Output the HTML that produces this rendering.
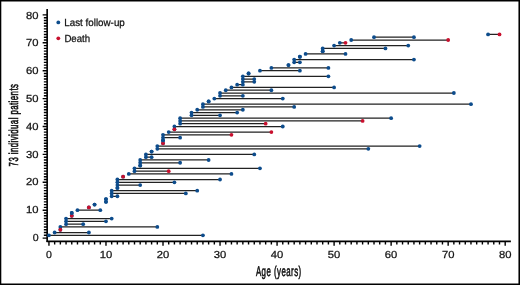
<!DOCTYPE html>
<html><head><meta charset="utf-8"><title>chart</title>
<style>
html,body{margin:0;padding:0;background:#fff;}
body{width:520px;height:285px;position:relative;overflow:hidden;font-family:"Liberation Sans",sans-serif;}
</style></head><body>
<svg width="520" height="285" viewBox="0 0 520 285" style="position:absolute;left:0;top:0;will-change:transform">
<g stroke="#000" stroke-width="1.65" fill="none">
<path d="M47.15 9.07V241.90"/>
<path d="M46.55 241.3H510.89"/>
</g>
<path d="M42.65 238.10H47.15M43.85 235.31H47.15M43.85 232.52H47.15M43.85 229.73H47.15M43.85 226.94H47.15M43.85 224.15H47.15M43.85 221.36H47.15M43.85 218.57H47.15M43.85 215.78H47.15M43.85 212.99H47.15M42.65 210.20H47.15M43.85 207.41H47.15M43.85 204.62H47.15M43.85 201.83H47.15M43.85 199.04H47.15M43.85 196.25H47.15M43.85 193.46H47.15M43.85 190.67H47.15M43.85 187.88H47.15M43.85 185.09H47.15M42.65 182.30H47.15M43.85 179.51H47.15M43.85 176.72H47.15M43.85 173.93H47.15M43.85 171.14H47.15M43.85 168.35H47.15M43.85 165.56H47.15M43.85 162.77H47.15M43.85 159.98H47.15M43.85 157.19H47.15M42.65 154.40H47.15M43.85 151.61H47.15M43.85 148.82H47.15M43.85 146.03H47.15M43.85 143.24H47.15M43.85 140.45H47.15M43.85 137.66H47.15M43.85 134.87H47.15M43.85 132.08H47.15M43.85 129.29H47.15M42.65 126.50H47.15M43.85 123.71H47.15M43.85 120.92H47.15M43.85 118.13H47.15M43.85 115.34H47.15M43.85 112.55H47.15M43.85 109.76H47.15M43.85 106.97H47.15M43.85 104.18H47.15M43.85 101.39H47.15M42.65 98.60H47.15M43.85 95.81H47.15M43.85 93.02H47.15M43.85 90.23H47.15M43.85 87.44H47.15M43.85 84.65H47.15M43.85 81.86H47.15M43.85 79.07H47.15M43.85 76.28H47.15M43.85 73.49H47.15M42.65 70.70H47.15M43.85 67.91H47.15M43.85 65.12H47.15M43.85 62.33H47.15M43.85 59.54H47.15M43.85 56.75H47.15M43.85 53.96H47.15M43.85 51.17H47.15M43.85 48.38H47.15M43.85 45.59H47.15M42.65 42.80H47.15M43.85 40.01H47.15M43.85 37.22H47.15M43.85 34.43H47.15M43.85 31.64H47.15M43.85 28.85H47.15M43.85 26.06H47.15M43.85 23.27H47.15M43.85 20.48H47.15M43.85 17.69H47.15M42.65 14.90H47.15M48.95 241.3V245.80M54.65 241.3V244.50M60.36 241.3V244.50M66.06 241.3V244.50M71.76 241.3V244.50M77.47 241.3V244.50M83.17 241.3V244.50M88.87 241.3V244.50M94.57 241.3V244.50M100.28 241.3V244.50M105.98 241.3V245.80M111.68 241.3V244.50M117.39 241.3V244.50M123.09 241.3V244.50M128.79 241.3V244.50M134.50 241.3V244.50M140.20 241.3V244.50M145.90 241.3V244.50M151.60 241.3V244.50M157.31 241.3V244.50M163.01 241.3V245.80M168.71 241.3V244.50M174.42 241.3V244.50M180.12 241.3V244.50M185.82 241.3V244.50M191.53 241.3V244.50M197.23 241.3V244.50M202.93 241.3V244.50M208.63 241.3V244.50M214.34 241.3V244.50M220.04 241.3V245.80M225.74 241.3V244.50M231.45 241.3V244.50M237.15 241.3V244.50M242.85 241.3V244.50M248.56 241.3V244.50M254.26 241.3V244.50M259.96 241.3V244.50M265.66 241.3V244.50M271.37 241.3V244.50M277.07 241.3V245.80M282.77 241.3V244.50M288.48 241.3V244.50M294.18 241.3V244.50M299.88 241.3V244.50M305.58 241.3V244.50M311.29 241.3V244.50M316.99 241.3V244.50M322.69 241.3V244.50M328.40 241.3V244.50M334.10 241.3V245.80M339.80 241.3V244.50M345.51 241.3V244.50M351.21 241.3V244.50M356.91 241.3V244.50M362.62 241.3V244.50M368.32 241.3V244.50M374.02 241.3V244.50M379.72 241.3V244.50M385.43 241.3V244.50M391.13 241.3V245.80M396.83 241.3V244.50M402.54 241.3V244.50M408.24 241.3V244.50M413.94 241.3V244.50M419.64 241.3V244.50M425.35 241.3V244.50M431.05 241.3V244.50M436.75 241.3V244.50M442.46 241.3V244.50M448.16 241.3V245.80M453.86 241.3V244.50M459.57 241.3V244.50M465.27 241.3V244.50M470.97 241.3V244.50M476.68 241.3V244.50M482.38 241.3V244.50M488.08 241.3V244.50M493.78 241.3V244.50M499.49 241.3V244.50M505.19 241.3V245.80" stroke="#000" stroke-width="1.4" fill="none"/>
<path d="M48.95 235.31H202.93M54.65 232.52H88.87M60.36 226.94H157.31M66.06 224.15H83.17M66.06 221.36H105.98M66.06 218.57H111.68M77.47 210.20H100.28M111.68 196.25H117.39M111.68 193.46H185.82M111.68 190.67H197.23M117.39 185.09H140.20M117.39 182.30H174.42M117.39 179.51H220.04M128.79 173.93H231.45M134.50 171.14H168.71M134.50 168.35H259.96M140.20 162.77H180.12M140.20 159.98H208.63M145.90 157.19H151.60M145.90 154.40H254.26M157.31 148.82H368.32M157.31 146.03H419.64M163.01 137.66H180.12M163.01 134.87H231.45M168.71 132.08H271.37M174.42 126.50H282.77M180.12 123.71H265.66M180.12 120.92H362.62M180.12 118.13H391.13M191.53 115.34H220.04M191.53 112.55H237.15M197.23 109.76H242.85M202.93 106.97H294.18M202.93 104.18H470.97M214.34 98.60H282.77M220.04 95.81H242.85M220.04 93.02H453.86M225.74 90.23H271.37M231.45 87.44H334.10M237.15 84.65H242.85M242.85 81.86H254.26M242.85 79.07H254.26M242.85 76.28H328.40M259.96 70.70H299.88M271.37 67.91H328.40M294.18 62.33H299.88M294.18 59.54H413.94M305.58 53.96H345.51M322.69 48.38H385.43M334.10 45.59H408.24M339.80 42.80H345.51M351.21 40.01H448.16M374.02 37.22H413.94M488.08 34.43H499.49" stroke="#222" stroke-width="1.25" fill="none"/>
<circle cx="48.95" cy="235.31" r="1.9" fill="#0d4c8c"/>
<circle cx="54.65" cy="232.52" r="1.9" fill="#0d4c8c"/>
<circle cx="60.36" cy="229.73" r="1.9" fill="#0d4c8c"/>
<circle cx="60.36" cy="226.94" r="1.9" fill="#0d4c8c"/>
<circle cx="66.06" cy="224.15" r="1.9" fill="#0d4c8c"/>
<circle cx="66.06" cy="221.36" r="1.9" fill="#0d4c8c"/>
<circle cx="66.06" cy="218.57" r="1.9" fill="#0d4c8c"/>
<circle cx="71.76" cy="215.78" r="1.9" fill="#0d4c8c"/>
<circle cx="71.76" cy="212.99" r="1.9" fill="#0d4c8c"/>
<circle cx="77.47" cy="210.20" r="1.9" fill="#0d4c8c"/>
<circle cx="88.87" cy="207.41" r="1.9" fill="#0d4c8c"/>
<circle cx="94.57" cy="204.62" r="1.9" fill="#0d4c8c"/>
<circle cx="105.98" cy="201.83" r="1.9" fill="#0d4c8c"/>
<circle cx="105.98" cy="199.04" r="1.9" fill="#0d4c8c"/>
<circle cx="111.68" cy="196.25" r="1.9" fill="#0d4c8c"/>
<circle cx="111.68" cy="193.46" r="1.9" fill="#0d4c8c"/>
<circle cx="111.68" cy="190.67" r="1.9" fill="#0d4c8c"/>
<circle cx="117.39" cy="187.88" r="1.9" fill="#0d4c8c"/>
<circle cx="117.39" cy="185.09" r="1.9" fill="#0d4c8c"/>
<circle cx="117.39" cy="182.30" r="1.9" fill="#0d4c8c"/>
<circle cx="117.39" cy="179.51" r="1.9" fill="#0d4c8c"/>
<circle cx="123.09" cy="176.72" r="1.9" fill="#0d4c8c"/>
<circle cx="128.79" cy="173.93" r="1.9" fill="#0d4c8c"/>
<circle cx="134.50" cy="171.14" r="1.9" fill="#0d4c8c"/>
<circle cx="134.50" cy="168.35" r="1.9" fill="#0d4c8c"/>
<circle cx="140.20" cy="165.56" r="1.9" fill="#0d4c8c"/>
<circle cx="140.20" cy="162.77" r="1.9" fill="#0d4c8c"/>
<circle cx="140.20" cy="159.98" r="1.9" fill="#0d4c8c"/>
<circle cx="145.90" cy="157.19" r="1.9" fill="#0d4c8c"/>
<circle cx="145.90" cy="154.40" r="1.9" fill="#0d4c8c"/>
<circle cx="151.60" cy="151.61" r="1.9" fill="#0d4c8c"/>
<circle cx="157.31" cy="148.82" r="1.9" fill="#0d4c8c"/>
<circle cx="157.31" cy="146.03" r="1.9" fill="#0d4c8c"/>
<circle cx="163.01" cy="143.24" r="1.9" fill="#0d4c8c"/>
<circle cx="163.01" cy="140.45" r="1.9" fill="#0d4c8c"/>
<circle cx="163.01" cy="137.66" r="1.9" fill="#0d4c8c"/>
<circle cx="163.01" cy="134.87" r="1.9" fill="#0d4c8c"/>
<circle cx="168.71" cy="132.08" r="1.9" fill="#0d4c8c"/>
<circle cx="174.42" cy="129.29" r="1.9" fill="#0d4c8c"/>
<circle cx="174.42" cy="126.50" r="1.9" fill="#0d4c8c"/>
<circle cx="180.12" cy="123.71" r="1.9" fill="#0d4c8c"/>
<circle cx="180.12" cy="120.92" r="1.9" fill="#0d4c8c"/>
<circle cx="180.12" cy="118.13" r="1.9" fill="#0d4c8c"/>
<circle cx="191.53" cy="115.34" r="1.9" fill="#0d4c8c"/>
<circle cx="191.53" cy="112.55" r="1.9" fill="#0d4c8c"/>
<circle cx="197.23" cy="109.76" r="1.9" fill="#0d4c8c"/>
<circle cx="202.93" cy="106.97" r="1.9" fill="#0d4c8c"/>
<circle cx="202.93" cy="104.18" r="1.9" fill="#0d4c8c"/>
<circle cx="208.63" cy="101.39" r="1.9" fill="#0d4c8c"/>
<circle cx="214.34" cy="98.60" r="1.9" fill="#0d4c8c"/>
<circle cx="220.04" cy="95.81" r="1.9" fill="#0d4c8c"/>
<circle cx="220.04" cy="93.02" r="1.9" fill="#0d4c8c"/>
<circle cx="225.74" cy="90.23" r="1.9" fill="#0d4c8c"/>
<circle cx="231.45" cy="87.44" r="1.9" fill="#0d4c8c"/>
<circle cx="237.15" cy="84.65" r="1.9" fill="#0d4c8c"/>
<circle cx="242.85" cy="81.86" r="1.9" fill="#0d4c8c"/>
<circle cx="242.85" cy="79.07" r="1.9" fill="#0d4c8c"/>
<circle cx="242.85" cy="76.28" r="1.9" fill="#0d4c8c"/>
<circle cx="248.56" cy="73.49" r="1.9" fill="#0d4c8c"/>
<circle cx="259.96" cy="70.70" r="1.9" fill="#0d4c8c"/>
<circle cx="271.37" cy="67.91" r="1.9" fill="#0d4c8c"/>
<circle cx="288.48" cy="65.12" r="1.9" fill="#0d4c8c"/>
<circle cx="294.18" cy="62.33" r="1.9" fill="#0d4c8c"/>
<circle cx="294.18" cy="59.54" r="1.9" fill="#0d4c8c"/>
<circle cx="299.88" cy="56.75" r="1.9" fill="#0d4c8c"/>
<circle cx="305.58" cy="53.96" r="1.9" fill="#0d4c8c"/>
<circle cx="322.69" cy="51.17" r="1.9" fill="#0d4c8c"/>
<circle cx="322.69" cy="48.38" r="1.9" fill="#0d4c8c"/>
<circle cx="334.10" cy="45.59" r="1.9" fill="#0d4c8c"/>
<circle cx="339.80" cy="42.80" r="1.9" fill="#0d4c8c"/>
<circle cx="351.21" cy="40.01" r="1.9" fill="#0d4c8c"/>
<circle cx="374.02" cy="37.22" r="1.9" fill="#0d4c8c"/>
<circle cx="488.08" cy="34.43" r="1.9" fill="#0d4c8c"/>
<circle cx="202.93" cy="235.31" r="1.9" fill="#0d4c8c"/>
<circle cx="88.87" cy="232.52" r="1.9" fill="#0d4c8c"/>
<circle cx="60.36" cy="229.73" r="1.9" fill="#c8102e"/>
<circle cx="157.31" cy="226.94" r="1.9" fill="#0d4c8c"/>
<circle cx="83.17" cy="224.15" r="1.9" fill="#0d4c8c"/>
<circle cx="105.98" cy="221.36" r="1.9" fill="#0d4c8c"/>
<circle cx="111.68" cy="218.57" r="1.9" fill="#0d4c8c"/>
<circle cx="71.76" cy="215.78" r="1.9" fill="#c8102e"/>
<circle cx="71.76" cy="212.99" r="1.9" fill="#0d4c8c"/>
<circle cx="100.28" cy="210.20" r="1.9" fill="#0d4c8c"/>
<circle cx="88.87" cy="207.41" r="1.9" fill="#c8102e"/>
<circle cx="94.57" cy="204.62" r="1.9" fill="#0d4c8c"/>
<circle cx="105.98" cy="201.83" r="1.9" fill="#0d4c8c"/>
<circle cx="105.98" cy="199.04" r="1.9" fill="#0d4c8c"/>
<circle cx="117.39" cy="196.25" r="1.9" fill="#0d4c8c"/>
<circle cx="185.82" cy="193.46" r="1.9" fill="#0d4c8c"/>
<circle cx="197.23" cy="190.67" r="1.9" fill="#0d4c8c"/>
<circle cx="117.39" cy="187.88" r="1.9" fill="#0d4c8c"/>
<circle cx="140.20" cy="185.09" r="1.9" fill="#0d4c8c"/>
<circle cx="174.42" cy="182.30" r="1.9" fill="#0d4c8c"/>
<circle cx="220.04" cy="179.51" r="1.9" fill="#0d4c8c"/>
<circle cx="123.09" cy="176.72" r="1.9" fill="#c8102e"/>
<circle cx="231.45" cy="173.93" r="1.9" fill="#0d4c8c"/>
<circle cx="168.71" cy="171.14" r="1.9" fill="#c8102e"/>
<circle cx="259.96" cy="168.35" r="1.9" fill="#0d4c8c"/>
<circle cx="140.20" cy="165.56" r="1.9" fill="#0d4c8c"/>
<circle cx="180.12" cy="162.77" r="1.9" fill="#0d4c8c"/>
<circle cx="208.63" cy="159.98" r="1.9" fill="#0d4c8c"/>
<circle cx="151.60" cy="157.19" r="1.9" fill="#0d4c8c"/>
<circle cx="254.26" cy="154.40" r="1.9" fill="#0d4c8c"/>
<circle cx="151.60" cy="151.61" r="1.9" fill="#0d4c8c"/>
<circle cx="368.32" cy="148.82" r="1.9" fill="#0d4c8c"/>
<circle cx="419.64" cy="146.03" r="1.9" fill="#0d4c8c"/>
<circle cx="163.01" cy="143.24" r="1.9" fill="#c8102e"/>
<circle cx="163.01" cy="140.45" r="1.9" fill="#0d4c8c"/>
<circle cx="180.12" cy="137.66" r="1.9" fill="#0d4c8c"/>
<circle cx="231.45" cy="134.87" r="1.9" fill="#c8102e"/>
<circle cx="271.37" cy="132.08" r="1.9" fill="#c8102e"/>
<circle cx="174.42" cy="129.29" r="1.9" fill="#c8102e"/>
<circle cx="282.77" cy="126.50" r="1.9" fill="#0d4c8c"/>
<circle cx="265.66" cy="123.71" r="1.9" fill="#c8102e"/>
<circle cx="362.62" cy="120.92" r="1.9" fill="#c8102e"/>
<circle cx="391.13" cy="118.13" r="1.9" fill="#0d4c8c"/>
<circle cx="220.04" cy="115.34" r="1.9" fill="#0d4c8c"/>
<circle cx="237.15" cy="112.55" r="1.9" fill="#0d4c8c"/>
<circle cx="242.85" cy="109.76" r="1.9" fill="#0d4c8c"/>
<circle cx="294.18" cy="106.97" r="1.9" fill="#0d4c8c"/>
<circle cx="470.97" cy="104.18" r="1.9" fill="#0d4c8c"/>
<circle cx="208.63" cy="101.39" r="1.9" fill="#0d4c8c"/>
<circle cx="282.77" cy="98.60" r="1.9" fill="#0d4c8c"/>
<circle cx="242.85" cy="95.81" r="1.9" fill="#0d4c8c"/>
<circle cx="453.86" cy="93.02" r="1.9" fill="#0d4c8c"/>
<circle cx="271.37" cy="90.23" r="1.9" fill="#0d4c8c"/>
<circle cx="334.10" cy="87.44" r="1.9" fill="#0d4c8c"/>
<circle cx="242.85" cy="84.65" r="1.9" fill="#0d4c8c"/>
<circle cx="254.26" cy="81.86" r="1.9" fill="#0d4c8c"/>
<circle cx="254.26" cy="79.07" r="1.9" fill="#0d4c8c"/>
<circle cx="328.40" cy="76.28" r="1.9" fill="#0d4c8c"/>
<circle cx="248.56" cy="73.49" r="1.9" fill="#0d4c8c"/>
<circle cx="299.88" cy="70.70" r="1.9" fill="#0d4c8c"/>
<circle cx="328.40" cy="67.91" r="1.9" fill="#0d4c8c"/>
<circle cx="288.48" cy="65.12" r="1.9" fill="#0d4c8c"/>
<circle cx="299.88" cy="62.33" r="1.9" fill="#0d4c8c"/>
<circle cx="413.94" cy="59.54" r="1.9" fill="#0d4c8c"/>
<circle cx="299.88" cy="56.75" r="1.9" fill="#0d4c8c"/>
<circle cx="345.51" cy="53.96" r="1.9" fill="#0d4c8c"/>
<circle cx="322.69" cy="51.17" r="1.9" fill="#0d4c8c"/>
<circle cx="385.43" cy="48.38" r="1.9" fill="#0d4c8c"/>
<circle cx="408.24" cy="45.59" r="1.9" fill="#0d4c8c"/>
<circle cx="345.51" cy="42.80" r="1.9" fill="#c8102e"/>
<circle cx="448.16" cy="40.01" r="1.9" fill="#c8102e"/>
<circle cx="413.94" cy="37.22" r="1.9" fill="#0d4c8c"/>
<circle cx="499.49" cy="34.43" r="1.9" fill="#c8102e"/>
<circle cx="58.3" cy="22.4" r="1.9" fill="#0d4c8c"/>
<circle cx="58.3" cy="38.35" r="1.9" fill="#c8102e"/>
<g font-family="Liberation Sans, sans-serif" fill="#111" stroke="#111" stroke-width="0.25" text-rendering="geometricPrecision">
<text x="64.3" y="25.7" font-size="10.3" textLength="60.5" lengthAdjust="spacingAndGlyphs">Last follow-up</text>
<text x="64.4" y="41.5" font-size="10.3" textLength="25.8" lengthAdjust="spacingAndGlyphs">Death</text>
<text x="32.65" y="241.05" font-size="10.2" textLength="5.9" lengthAdjust="spacingAndGlyphs">0</text>
<text x="26.05" y="213.25" font-size="10.2" textLength="12.5" lengthAdjust="spacingAndGlyphs">10</text>
<text x="26.05" y="185.45" font-size="10.2" textLength="12.5" lengthAdjust="spacingAndGlyphs">20</text>
<text x="26.05" y="157.65" font-size="10.2" textLength="12.5" lengthAdjust="spacingAndGlyphs">30</text>
<text x="26.05" y="129.85" font-size="10.2" textLength="12.5" lengthAdjust="spacingAndGlyphs">40</text>
<text x="26.05" y="102.05" font-size="10.2" textLength="12.5" lengthAdjust="spacingAndGlyphs">50</text>
<text x="26.05" y="74.25" font-size="10.2" textLength="12.5" lengthAdjust="spacingAndGlyphs">60</text>
<text x="26.05" y="46.45" font-size="10.2" textLength="12.5" lengthAdjust="spacingAndGlyphs">70</text>
<text x="26.05" y="18.65" font-size="10.2" textLength="12.5" lengthAdjust="spacingAndGlyphs">80</text>
<text x="46.00" y="257.6" font-size="10.2" textLength="5.9" lengthAdjust="spacingAndGlyphs">0</text>
<text x="99.73" y="257.6" font-size="10.2" textLength="12.5" lengthAdjust="spacingAndGlyphs">10</text>
<text x="156.76" y="257.6" font-size="10.2" textLength="12.5" lengthAdjust="spacingAndGlyphs">20</text>
<text x="213.79" y="257.6" font-size="10.2" textLength="12.5" lengthAdjust="spacingAndGlyphs">30</text>
<text x="270.82" y="257.6" font-size="10.2" textLength="12.5" lengthAdjust="spacingAndGlyphs">40</text>
<text x="327.85" y="257.6" font-size="10.2" textLength="12.5" lengthAdjust="spacingAndGlyphs">50</text>
<text x="384.88" y="257.6" font-size="10.2" textLength="12.5" lengthAdjust="spacingAndGlyphs">60</text>
<text x="441.91" y="257.6" font-size="10.2" textLength="12.5" lengthAdjust="spacingAndGlyphs">70</text>
<text x="498.94" y="257.6" font-size="10.2" textLength="12.5" lengthAdjust="spacingAndGlyphs">80</text>
<text transform="translate(255.9 275.5) scale(0.56 1)" font-size="14.1" stroke-width="0.6" letter-spacing="0.8">Age (years)</text>
<text transform="translate(18.0 166.4) rotate(-90) scale(0.60 1)" font-size="13.0" stroke-width="0.6" letter-spacing="0.75">73 individual patients</text>
</g>
<path d="M0 0H520V285H0Z M1.3 1.45V283.45H518.45V1.45Z" fill="#000" fill-rule="evenodd"/>
</svg>

</body></html>
